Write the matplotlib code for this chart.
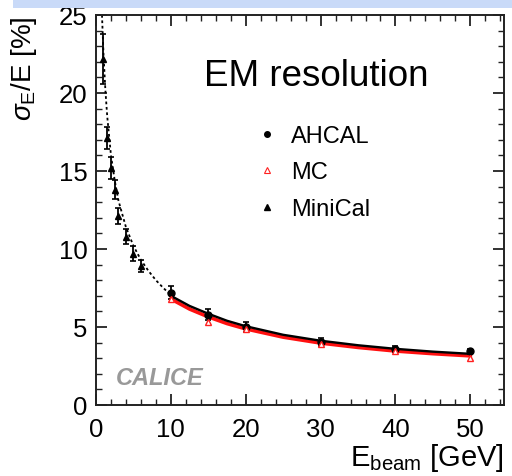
import matplotlib
matplotlib.use("Agg")
import matplotlib.pyplot as plt
from matplotlib.lines import Line2D
from matplotlib.patches import Rectangle

plt.rcParams['font.family'] = ['Liberation Sans', 'DejaVu Sans']
plt.rcParams['mathtext.fontset'] = 'custom'
plt.rcParams['mathtext.rm'] = 'Liberation Sans'
plt.rcParams['mathtext.it'] = 'Liberation Sans:italic'

# AHCAL data (10-50 GeV)
ahcal_e = [10, 15, 20, 30, 40, 50]
ahcal_res = [7.2, 5.8, 5.0, 4.05, 3.6, 3.45]
ahcal_err = [0.4, 0.35, 0.3, 0.25, 0.2, 0.15]

# MC points
mc_e = [10, 15, 20, 30, 40, 50]
mc_res = [6.8, 5.35, 4.85, 3.9, 3.45, 3.0]

# MiniCal data (low energy)
mini_e = [1, 1.5, 2, 2.5, 3, 4, 5, 6]
mini_res = [22.2, 17.1, 15.2, 13.8, 12.1, 10.8, 9.7, 8.9]
mini_err = [1.6, 0.7, 0.7, 0.6, 0.5, 0.5, 0.5, 0.4]

# fit curves
fit_e = [10, 12.5, 15, 17.5, 20, 25, 30, 35, 40, 45, 50]
fit_ahcal = [7.0, 6.35, 5.85, 5.4, 5.05, 4.5, 4.12, 3.83, 3.6, 3.42, 3.28]
fit_mc = [6.8, 6.15, 5.65, 5.22, 4.88, 4.35, 3.97, 3.69, 3.46, 3.29, 3.15]
mini_fit_e = [0.8, 1, 1.25, 1.5, 2, 2.5, 3, 4, 5, 6, 7, 8, 9, 10]
mini_fit_res = [25.0, 22.5, 20.2, 18.5, 16.0, 14.4, 13.1, 11.4, 10.2, 9.3, 8.6, 8.0, 7.5, 7.05]

fig = plt.figure(figsize=(5.12, 4.77), dpi=100)
fig.patches.append(Rectangle((13 / 512, 1 - 9 / 477), 1, 9 / 477, transform=fig.transFigure,
                             facecolor='#c9daf8', edgecolor='none', zorder=0))
ax = fig.add_axes([96 / 512, 1 - 406 / 477, 408 / 512, 390 / 477])

ax.plot(mini_fit_e, mini_fit_res, color='black', ls=(0, (1.5, 1.5)), lw=1.3, zorder=2)
ax.plot(fit_e, fit_mc, color='#ff1010', lw=2.6, zorder=2)
ax.plot(fit_e, fit_ahcal, color='black', lw=1.7, zorder=3)

ax.errorbar(mini_e, mini_res, yerr=mini_err, fmt='^', color='black', ms=5,
            capsize=2.5, elinewidth=1.3, capthick=1.2, zorder=4)
ax.errorbar(ahcal_e, ahcal_res, yerr=ahcal_err, fmt='o', color='black', ms=5,
            capsize=2.5, elinewidth=1.3, capthick=1.2, zorder=4)
ax.plot(mc_e, mc_res, '^', mfc='white', mec='#ff2020', ms=5, mew=1.0, zorder=5)

ax.set_xlim(0, 54.5)
ax.set_ylim(0, 25)
ax.set_xticks([0, 10, 20, 30, 40, 50])
ax.set_xticks(range(0, 55, 2), minor=True)
ax.set_yticks([0, 5, 10, 15, 20, 25])
ax.set_yticks(range(0, 26), minor=True)
ax.tick_params(which='both', direction='in', top=True, right=True, color='#222222')
ax.tick_params(which='major', length=8, width=1.3, labelsize=18.5)
ax.tick_params(which='minor', length=4.5, width=1.0)
ax.tick_params(axis='x', pad=9)
ax.tick_params(axis='y', pad=6)
for s in ax.spines.values():
    s.set_linewidth(1.4)
    s.set_color('#222222')

ax.set_xlabel(r'E$_{\rm beam}$ [GeV]', fontsize=21, loc='right', labelpad=0)
ax.set_ylabel(r'$\sigma_{\rm E}$/E [%]', fontsize=20, loc='top', labelpad=14)

ax.text(0.265, 0.82, 'EM resolution', transform=ax.transAxes, fontsize=26.5)
ax.text(2.6, 1.75, 'CALICE', fontsize=17, fontweight='bold', fontstyle='italic',
        color='#999999', va='center')

handles = [
    Line2D([], [], ls='none', marker='o', color='black', ms=4),
    Line2D([], [], ls='none', marker='^', mfc='white', mec='#ff2020', ms=4, mew=0.8),
    Line2D([], [], ls='none', marker='^', color='black', ms=4),
]
ax.legend(handles, ['AHCAL', 'MC', 'MiniCal'], frameon=False, fontsize=17,
          loc='upper left', bbox_to_anchor=(245 / 512, 1 - 114 / 477),
          bbox_transform=fig.transFigure, borderpad=0, handlelength=0.9,
          handletextpad=0.55, labelspacing=0.62)

fig.savefig('out.png', dpi=100)
